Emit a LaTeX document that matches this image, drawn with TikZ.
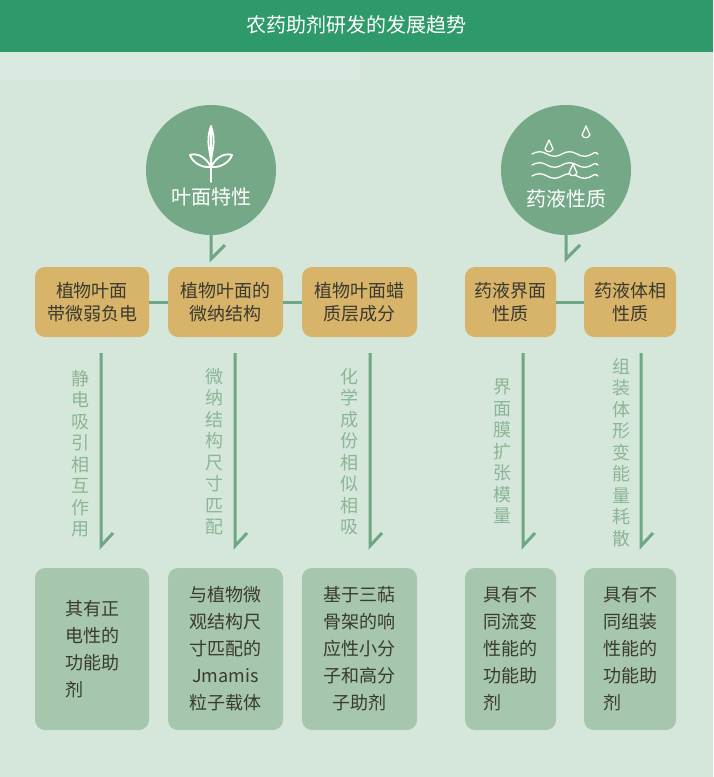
\documentclass[tikz,border=0pt]{standalone}
\usepackage{fontspec}
\setmainfont{Noto Sans CJK SC}
\begin{document}
\begin{tikzpicture}[x=1pt,y=-1pt,
  box/.style={fill=boxor,rounded corners=10pt,draw=none,text=txtd,align=center,font=\fontsize{18}{23}\selectfont},
  res/.style={fill=boxg,rounded corners=10pt,draw=none,text=txtd,align=center,font=\fontsize{18}{27}\selectfont},
  vt/.style={text=vtxt,align=center,font=\fontsize{18}{21.5}\selectfont,anchor=north,inner sep=0pt},
  gl/.style={draw=lg,line width=3pt},
  circ/.style={circle,fill=cg,minimum size=130pt,inner sep=0pt},
  ic/.style={draw=white,line width=1.8pt,line cap=round,line join=round}]
\definecolor{bg}{HTML}{D5E7DB}
\definecolor{hd}{HTML}{2E9A6A}
\definecolor{cg}{HTML}{74A886}
\definecolor{lg}{HTML}{6FA683}
\definecolor{boxor}{HTML}{D8B36A}
\definecolor{boxg}{HTML}{A6C6AE}
\definecolor{txtd}{HTML}{3A3A2E}
\definecolor{vtxt}{HTML}{8BB596}
\useasboundingbox (0,0) rectangle (713,777);
\fill[bg] (0,0) rectangle (713,777);
\fill[white,opacity=0.15] (0,52) rectangle (360,80);
\fill[hd] (0,0) rectangle (713,52);
\node[text=white,font=\fontsize{20}{24}\selectfont] (title) at (356,25) {农药助剂研发的发展趋势};
% circles
\node[circ] (c1) at (211,170) {};
\node[circ] (c2) at (566,170) {};
\node[text=white,font=\fontsize{20}{24}\selectfont] (c1t) at (211,197) {叶面特性};
\node[text=white,font=\fontsize{20}{24}\selectfont] (c2t) at (566,199) {药液性质};
\coordinate (p1) at (211,259);
\coordinate (p2) at (566,259);
\draw[gl] (c1.south) -- (p1) -- ++(14,-14);
\draw[gl] (c2.south) -- (p2) -- ++(14,-14);
% leaf icon
\draw[ic] (211,127) -- (211,182);
\draw[ic] (211,165) .. controls (211,150) and (217,144) .. (211,126) .. controls (205,144) and (211,150) .. (211,165);
\draw[ic] (211,167) .. controls (205,155) and (195,153) .. (190,155) .. controls (193,163) and (202,168) .. (211,167);
\draw[ic] (211,167) .. controls (217,155) and (227,153) .. (232,155) .. controls (229,163) and (220,168) .. (211,167);
% water icon
\foreach \yy in {154,165,176}{
 \draw[ic,line width=1.3pt] (532,\yy) .. controls (537,\yy-3) and (542,\yy-3) .. (547,\yy) .. controls (552,\yy+3) and (557,\yy+3) .. (562,\yy) .. controls (567,\yy-3) and (572,\yy-3) .. (577,\yy) .. controls (582,\yy+3) and (587,\yy+3) .. (592,\yy) .. controls (595,\yy-2) and (597,\yy-2) .. (598,\yy);}
\foreach \dx/\dy in {549/140,586/126,573/164}{
 \draw[ic,line width=1.3pt,fill=cg] (\dx,\dy) -- (\dx-4,\dy+9) arc[start angle=200,end angle=340,x radius=4.25,y radius=-4.25] -- cycle;}
% boxes
\node[box,minimum width=114pt,minimum height=70pt] (b1) at (92,302) {植物叶面\\带微弱负电};
\node[box,minimum width=115pt,minimum height=70pt] (b2) at (225.5,302) {植物叶面的\\微纳结构};
\node[box,minimum width=115pt,minimum height=70pt] (b3) at (359.5,302) {植物叶面蜡\\质层成分};
\node[box,minimum width=91pt,minimum height=70pt] (b4) at (510.5,302) {药液界面\\性质};
\node[box,minimum width=92pt,minimum height=70pt] (b5) at (630,302) {药液体相\\性质};
\draw[gl] (b1) -- (b2); \draw[gl] (b2) -- (b3); \draw[gl] (b4) -- (b5);
% results
\node[res,minimum width=114pt,minimum height=162pt] (r1) at (92,649) {其有正\\电性的\\功能助\\剂\phantom{功能}};
\node[res,minimum width=115pt,minimum height=162pt] (r2) at (225.5,649) {与植物微\\观结构尺\\寸匹配的\\Jmamis\\粒子载体};
\node[res,minimum width=115pt,minimum height=162pt] (r3) at (359.5,649) {基于三萜\\骨架的响\\应性小分\\子和高分\\子助剂};
\node[res,minimum width=91pt,minimum height=162pt] (r4) at (510.5,649) {具有不\\同流变\\性能的\\功能助\\剂\phantom{功能}};
\node[res,minimum width=92pt,minimum height=162pt] (r5) at (630,649) {具有不\\同组装\\性能的\\功能助\\剂\phantom{功能}};
% vertical arrows
\foreach \n/\x in {1/101,2/235,3/370,4/523,5/641}{
  \coordinate (t\n) at (\x,353);
  \coordinate (e\n) at (\x,546);
  \draw[gl] (t\n) -- (e\n) -- ++(12,-13);}
\node[vt] (v1) at (80,370) {静\\电\\吸\\引\\相\\互\\作\\用};
\node[vt] (v2) at (214,368) {微\\纳\\结\\构\\尺\\寸\\匹\\配};
\node[vt] (v3) at (349,368) {化\\学\\成\\份\\相\\似\\相\\吸};
\node[vt] (v4) at (502,379) {界\\面\\膜\\扩\\张\\模\\量};
\node[vt] (v5) at (621,358) {组\\装\\体\\形\\变\\能\\量\\耗\\散};
\end{tikzpicture}
\end{document}
